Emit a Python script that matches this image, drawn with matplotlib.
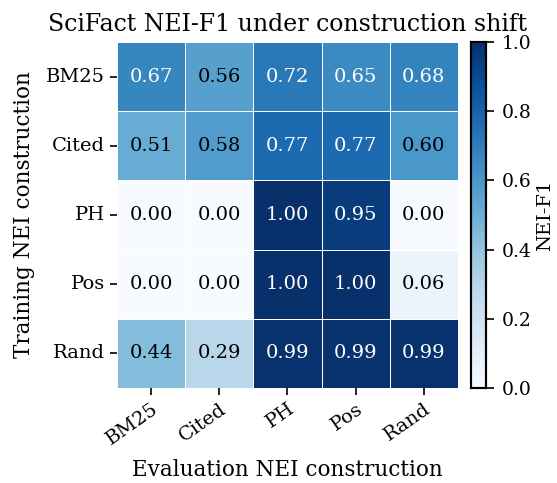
import matplotlib
matplotlib.use("Agg")
import matplotlib.pyplot as plt
import seaborn as sns
import numpy as np

rows = ["BM25", "Cited", "PH", "Pos", "Rand"]
cols = ["BM25", "Cited", "PH", "Pos", "Rand"]
bm25 = [0.67, 0.56, 0.72, 0.65, 0.68]
cited = [0.51, 0.58, 0.77, 0.77, 0.60]
ph = [0.00, 0.00, 1.00, 0.95, 0.00]
pos = [0.00, 0.00, 1.00, 1.00, 0.06]
rand = [0.44, 0.29, 0.99, 0.99, 0.99]

plt.rcParams['font.family'] = ['DejaVu Serif']
plt.rcParams['font.size'] = 13

data = np.array([bm25, cited, ph, pos, rand])

fig = plt.figure(figsize=(5.57, 4.83), dpi=100)
ax = fig.add_axes([0.21, 0.197, 0.612, 0.716])
cax = fig.add_axes([0.845, 0.197, 0.028, 0.716])
sns.heatmap(data, ax=ax, cbar_ax=cax, cmap="Blues", vmin=0, vmax=1,
            annot=False, linewidths=0.6, linecolor="white",
            xticklabels=cols, yticklabels=rows,
            cbar_kws={"label": "NEI-F1"})
for i in range(data.shape[0]):
    for j in range(data.shape[1]):
        v = data[i, j]
        ax.text(j + 0.5, i + 0.5, f"{v:.2f}", ha="center", va="center",
                fontsize=14, color="white" if v >= 0.62 else "black")
ax.set_title("SciFact NEI-F1 under construction shift", fontsize=17, pad=8)
ax.set_xlabel("Evaluation NEI construction", fontsize=15.5, labelpad=8)
ax.set_ylabel("Training NEI construction", fontsize=15.5, labelpad=8)
ax.tick_params(axis='both', labelsize=14, length=5, width=1.2)
plt.setp(ax.get_xticklabels(), rotation=35, ha="right", rotation_mode="anchor")
plt.setp(ax.get_yticklabels(), rotation=0)
cax.tick_params(labelsize=13.5, length=6, width=1.2, pad=5)
cax.set_ylabel("NEI-F1", fontsize=14, labelpad=3)
for s in cax.spines.values():
    s.set_visible(True)
    s.set_linewidth(1.5)
    s.set_edgecolor("black")
fig.savefig("out.png", dpi=100)
